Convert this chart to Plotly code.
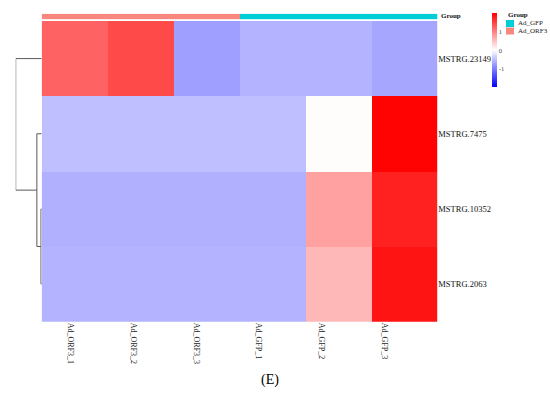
import plotly.graph_objects as go

# ---- data ----
samples = ["Ad_ORF3_1", "Ad_ORF3_2", "Ad_ORF3_3", "Ad_GFP_1", "Ad_GFP_2", "Ad_GFP_3"]
genes = ["MSTRG.23149", "MSTRG.7475", "MSTRG.10352", "MSTRG.2063"]
group = ["Ad_ORF3", "Ad_ORF3", "Ad_ORF3", "Ad_GFP", "Ad_GFP", "Ad_GFP"]
z_23149 = [1.23, 1.42, -0.75, -0.60, -0.60, -0.70]
z_7475 = [-0.50, -0.50, -0.50, -0.50, 0.02, 1.98]
z_10352 = [-0.62, -0.62, -0.62, -0.62, 0.74, 1.75]
z_2063 = [-0.60, -0.60, -0.60, -0.60, 0.56, 1.84]
# row dendrogram: (child_a, child_b, height); leaves 0..3, new nodes 4,5,...
row_merges = [(2, 3, 0.12), (1, 4, 0.80), (0, 5, 4.30)]
group_colors = {"Ad_GFP": "#00CED6", "Ad_ORF3": "#F8877F"}
legend_groups = ["Ad_GFP", "Ad_ORF3"]

W, H = 550, 397
FONT = "Liberation Serif"

def px(x):
    return x / W

def py(y):
    return 1 - y / H

hx0, hx1 = px(41.7), px(437.3)
hy0, hy1 = py(321.7), py(21)

z = [z_23149, z_7475, z_10352, z_2063]

fig = go.Figure()

# main heatmap
fig.add_trace(go.Heatmap(
    z=z, x=list(range(len(samples))), y=list(range(len(genes))),
    colorscale=[[0, "#0000FF"], [0.5, "#FFFFFF"], [1, "#FF0000"]],
    zmin=-2, zmax=2, xaxis="x", yaxis="y",
    colorbar=dict(
        x=px(491.7), xanchor="left", y=py(13.3), yanchor="top",
        thicknessmode="pixels", thickness=5, lenmode="pixels", len=74,
        outlinewidth=0, tickvals=[-1, 0, 1], ticktext=["-1", "0", "1"],
        ticks="", tickfont=dict(family=FONT, size=6.5, color="#444"),
        ypad=0, xpad=0,
    ),
))

# group annotation bar
gcode = [legend_groups.index(g) for g in group]
fig.add_trace(go.Heatmap(
    z=[gcode], x=list(range(len(samples))), y=[0],
    colorscale=[[0, group_colors["Ad_GFP"]], [0.5, group_colors["Ad_GFP"]],
                [0.5, group_colors["Ad_ORF3"]], [1, group_colors["Ad_ORF3"]]],
    zmin=0, zmax=1, showscale=False, xaxis="x", yaxis="y2", hoverinfo="skip",
))

# dendrogram
pos = {i: float(i) for i in range(len(genes))}
hgt = {i: 0.0 for i in range(len(genes))}
dx, dy = [], []
for k, (a, b, h) in enumerate(row_merges):
    node = len(genes) + k
    dx += [hgt[a], h, h, hgt[b], None]
    dy += [pos[a], pos[a], pos[b], pos[b], None]
    pos[node] = (pos[a] + pos[b]) / 2
    hgt[node] = h
fig.add_trace(go.Scatter(x=dx, y=dy, mode="lines", line=dict(color="#5a5a5a", width=1),
                         xaxis="x3", yaxis="y", hoverinfo="skip", showlegend=False))

fig.update_layout(
    width=W, height=H, margin=dict(l=0, r=0, t=0, b=0),
    paper_bgcolor="white", plot_bgcolor="white", showlegend=False,
    xaxis=dict(domain=[hx0, hx1], range=[-0.5, 5.5], showticklabels=False,
               showgrid=False, zeroline=False, ticks="", anchor="y"),
    xaxis2=dict(overlaying="x", anchor="y", side="bottom", range=[-0.46, 5.84],
                tickvals=list(range(len(samples))), ticktext=samples, tickangle=90,
                showgrid=False, zeroline=False, ticks="", showline=False,
                tickfont=dict(family=FONT, size=8, color="#222")),
    yaxis=dict(domain=[hy0, hy1], range=[3.5, -0.5], side="right",
               tickvals=list(range(len(genes))), ticktext=genes,
               showgrid=False, zeroline=False, ticks="", anchor="x",
               tickfont=dict(family=FONT, size=8.5, color="#111")),
    yaxis2=dict(domain=[py(19.3), py(13.7)], range=[-0.5, 0.5], showticklabels=False,
                showgrid=False, zeroline=False, anchor="x"),
    xaxis3=dict(domain=[px(15.7), hx0], range=[4.3, 0], showticklabels=False,
                showgrid=False, zeroline=False, ticks="", anchor="y"),
)

# dummy trace to make xaxis2 render
fig.add_trace(go.Scatter(x=[0], y=[0], xaxis="x2", yaxis="y", mode="markers",
                         marker=dict(opacity=0), hoverinfo="skip", showlegend=False))

annotations = [
    dict(text="<b>Group</b>", x=px(438.5), y=py(16.5), xref="paper", yref="paper",
         xanchor="left", yanchor="middle", showarrow=False,
         font=dict(family=FONT, size=7, color="#111")),
    dict(text="<b>Group</b>", x=px(505.5), y=py(15), xref="paper", yref="paper",
         xanchor="left", yanchor="middle", showarrow=False,
         font=dict(family=FONT, size=7, color="#111")),
    dict(text="(E)", x=px(270), y=py(380), xref="paper", yref="paper",
         xanchor="center", yanchor="middle", showarrow=False,
         font=dict(family=FONT, size=14, color="#000")),
]
shapes = []
for i, g in enumerate(legend_groups):
    ytop = 20 + i * 7.5
    shapes.append(dict(type="rect", xref="paper", yref="paper",
                       x0=px(506), x1=px(514), y0=py(ytop + 7), y1=py(ytop),
                       fillcolor=group_colors[g], line=dict(width=0)))
    annotations.append(dict(text=g, x=px(515.5), y=py(ytop + 3.5), xref="paper", yref="paper",
                            xanchor="left", yanchor="middle", showarrow=False,
                            font=dict(family=FONT, size=7, color="#222")))
fig.update_layout(annotations=annotations, shapes=shapes)

fig.write_html("out.html", config={"displayModeBar": False},
               post_script="document.body.style.margin='0';")
